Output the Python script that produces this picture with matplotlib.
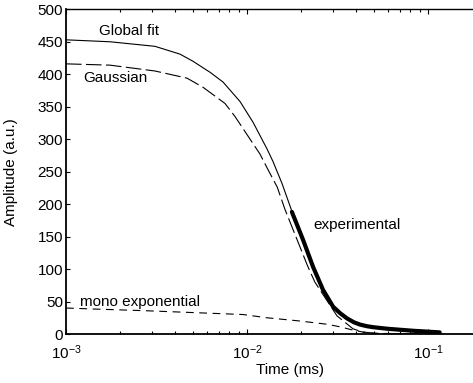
import matplotlib
matplotlib.use("Agg")
import matplotlib.pyplot as plt
from matplotlib.ticker import FixedLocator, FixedFormatter, LogLocator, NullFormatter

plt.rcParams['font.family'] = ['Liberation Sans', 'DejaVu Sans']
plt.rcParams['mathtext.fontset'] = 'custom'
plt.rcParams['mathtext.rm'] = 'Liberation Sans'
plt.rcParams['mathtext.it'] = 'Liberation Sans:italic'
plt.rcParams['mathtext.bf'] = 'Liberation Sans:bold'

# ---- data ----
t_global = [1e-3, 1.75e-3, 3.1e-3, 4.26e-3, 5.03e-3, 6.25e-3, 7.37e-3, 9.15e-3, 1.08e-2,
            1.29e-2, 1.39e-2, 1.56e-2, 1.77e-2, 2.04e-2, 2.32e-2, 2.63e-2, 2.99e-2,
            3.27e-2, 3.57e-2, 3.9e-2, 4.21e-2, 4.6e-2, 4.97e-2, 6.0e-2, 8.26e-2, 0.116]
amp_global = [453, 450, 443, 431, 420, 403, 388, 358, 326,
              285, 266, 232, 189, 146, 105, 69, 43,
              32, 24, 18, 14.5, 12, 10.5, 8, 5, 2.5]

t_gauss = [1e-3, 1.75e-3, 3.1e-3, 4.66e-3, 5.71e-3, 7.56e-3, 8.58e-3, 1.18e-2, 1.29e-2,
           1.47e-2, 1.62e-2, 2.16e-2, 2.37e-2, 3.14e-2, 3.85e-2, 4.37e-2, 5.43e-2, 0.12]
amp_gauss = [416, 414, 405, 394, 380, 355, 335, 277, 256,
             226, 192, 105, 80, 28, 8, 3, 0.5, 0]

t_mono = [1e-3, 1.41e-3, 2.66e-3, 5.03e-3, 9.5e-3, 1.29e-2, 1.96e-2, 2.77e-2, 3.27e-2,
          3.85e-2, 4.37e-2, 5.0e-2, 0.12]
amp_mono = [40, 38.5, 36, 33, 30, 25, 20, 15, 11, 6, 3, 1, 0]

t_exp = [1.77e-2, 2.04e-2, 2.32e-2, 2.63e-2, 2.99e-2, 3.27e-2, 3.57e-2, 3.9e-2, 4.21e-2,
         4.6e-2, 4.97e-2, 6.0e-2, 8.26e-2, 0.116]
amp_exp = [188, 145, 103, 68, 42, 32, 24, 18, 14.5, 12, 10.5, 8, 5, 2.5]

x_ticks = [1e-3, 1e-2, 1e-1]
x_ticklabels = [r'$\mathregular{10^{-3}}$', r'$\mathregular{10^{-2}}$', r'$\mathregular{10^{-1}}$']
y_ticks = [0, 50, 100, 150, 200, 250, 300, 350, 400, 450, 500]

# ---- figure ----
fig = plt.figure(figsize=(4.73, 3.83), dpi=100)
ax = fig.add_axes([66 / 473, 49 / 383, (482.5 - 66) / 473, (334 - 9.3) / 383])

ax.plot(t_global, amp_global, color='black', lw=0.8)
ax.plot(t_gauss, amp_gauss, color='black', lw=0.8, dashes=(14, 4))
ax.plot(t_mono, amp_mono, color='black', lw=0.8, dashes=(7, 5))
ax.plot(t_exp, amp_exp, color='black', lw=3.0, solid_capstyle='round',
        solid_joinstyle='round')

ax.set_xscale('log')
ax.set_xlim(1e-3, 0.2)
ax.set_ylim(0, 500)

ax.xaxis.set_major_locator(FixedLocator(x_ticks))
ax.xaxis.set_major_formatter(FixedFormatter(x_ticklabels))
ax.xaxis.set_minor_locator(LogLocator(base=10, subs=[2, 3, 4, 5, 6, 7, 8, 9]))
ax.xaxis.set_minor_formatter(NullFormatter())
ax.set_yticks(y_ticks)

fs = 11
ax.tick_params(axis='x', which='major', direction='in', length=3.5, width=0.8,
               top=True, labelsize=fs, pad=6.5)
ax.tick_params(axis='x', which='minor', direction='in', length=2.2, width=0.8, top=True)
ax.tick_params(axis='y', which='major', direction='in', length=3, width=0.8,
               labelsize=fs, pad=2)

ax.spines['right'].set_visible(False)
ax.spines['left'].set_linewidth(1.3)
ax.spines['bottom'].set_linewidth(1.3)
ax.spines['top'].set_linewidth(1.0)

ax.text(1.52e-3, 466, 'Global fit', fontsize=fs, va='center', ha='left')
ax.text(1.24e-3, 394, 'Gaussian', fontsize=fs, va='center', ha='left')
ax.text(1.19e-3, 49, 'mono exponential', fontsize=fs, va='center', ha='left')
ax.text(2.32e-2, 168, 'experimental', fontsize=fs, va='center', ha='left')

ax.set_xlabel('Time (ms)', fontsize=fs)
ax.xaxis.set_label_coords((290 - 66) / (482.5 - 66), -0.09)
ax.set_ylabel('Amplitude (a.u.)', fontsize=fs)
ax.yaxis.set_label_coords(-(66 - 18) / (482.5 - 66), 0.5)

fig.savefig('out.png', dpi=100)
